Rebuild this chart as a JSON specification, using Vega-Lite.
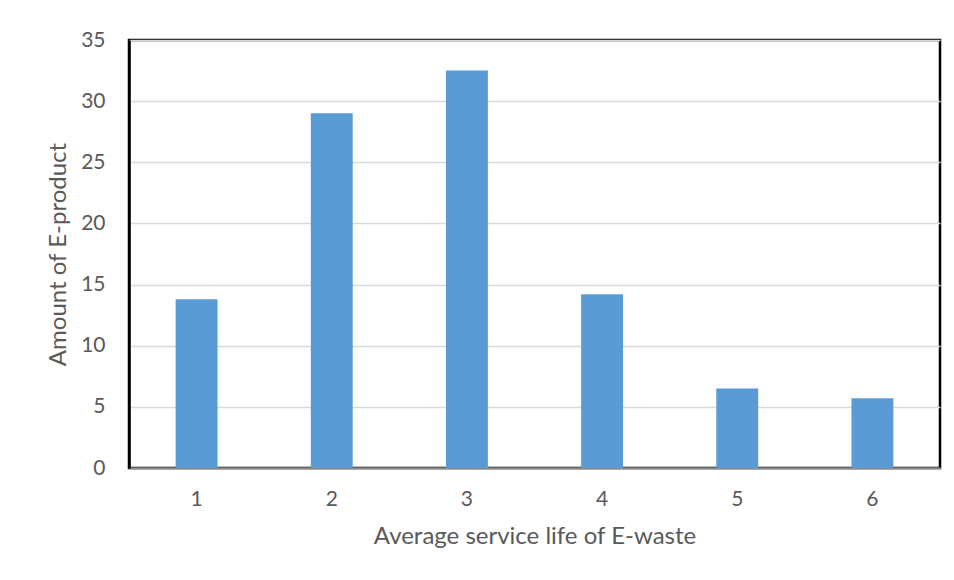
{
  "$schema": "https://vega.github.io/schema/vega-lite/v6.json",
  "width": 811,
  "height": 428,
  "autosize": {"type": "none"},
  "padding": {"left": 129, "top": 40, "right": 14, "bottom": 112},
  "background": "white",
  "data": {"values": [
    {"life": "1", "amount": 13.8},
    {"life": "2", "amount": 29},
    {"life": "3", "amount": 32.5},
    {"life": "4", "amount": 14.2},
    {"life": "5", "amount": 6.5},
    {"life": "6", "amount": 5.7}
  ]},
  "mark": {"type": "bar", "color": "#5B9BD5"},
  "encoding": {
    "x": {
      "field": "life", "type": "ordinal",
      "scale": {"paddingInner": 0.69, "paddingOuter": 0.345},
      "axis": {
        "title": "Average service life of E-waste",
        "labelAngle": 0,
        "labelFont": "Lato", "labelFontSize": 21, "labelColor": "#595959",
        "labelPadding": 20,
        "titleFont": "Lato", "titleFontSize": 24, "titleColor": "#595959", "titleFontWeight": "normal",
        "titlePadding": 15,
        "ticks": false,
        "domainColor": "#8c8c8c", "domainWidth": 2
      }
    },
    "y": {
      "field": "amount", "type": "quantitative",
      "scale": {"domain": [0, 35], "nice": false},
      "axis": {
        "title": "Amount of E-product",
        "values": [0, 5, 10, 15, 20, 25, 30, 35],
        "labelFont": "Lato", "labelFontSize": 21, "labelColor": "#595959",
        "labelPadding": 24,
        "titleFont": "Lato", "titleFontSize": 24, "titleColor": "#595959", "titleFontWeight": "normal",
        "titlePadding": 10,
        "ticks": false,
        "domain": true, "domainColor": "black", "domainWidth": 2.5,
        "gridColor": "#d9d9d9", "gridWidth": 1.5
      }
    }
  },
  "config": {
    "view": {"stroke": "black", "strokeWidth": 2.5}
  }
}
